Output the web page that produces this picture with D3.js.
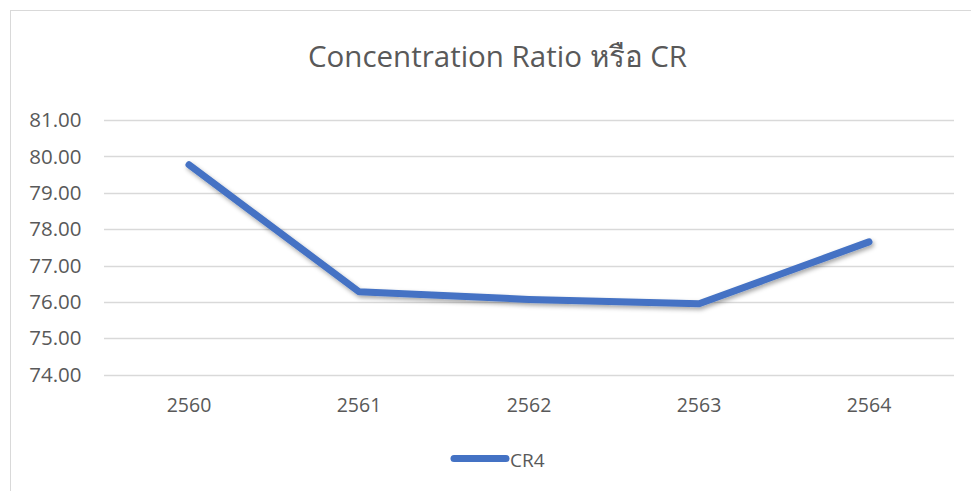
<!DOCTYPE html>
<html>
<head>
<meta charset="utf-8">
<script src="https://cdn.jsdelivr.net/npm/d3@7"></script>
<style>
  body { margin: 0; background: #fff; }
  text { font-family: "Open Sans", "Noto Sans", sans-serif; }
</style>
</head>
<body>
<svg id="chart"></svg>
<script>
// chart data
const years = ["2560", "2561", "2562", "2563", "2564"];
const cr4 = [79.77, 76.28, 76.07, 75.95, 77.65];
const yTicks = [74, 75, 76, 77, 78, 79, 80, 81];

const width = 971, height = 491;
const margin = { top: 120, right: 17, bottom: 116.3, left: 104 };

const svg = d3.select("#chart")
    .attr("width", width)
    .attr("height", height);

// outer frame
svg.append("rect")
    .attr("x", 10.5).attr("y", 10.5)
    .attr("width", width + 20).attr("height", height + 20)
    .attr("fill", "none")
    .attr("stroke", "#d9d9d9")
    .attr("stroke-width", 1);

const x = d3.scaleBand()
    .domain(years)
    .range([margin.left, width - margin.right]);

const y = d3.scaleLinear()
    .domain([74, 81])
    .range([height - margin.bottom, margin.top]);

// gridlines
svg.append("g")
    .selectAll("line")
    .data(yTicks)
    .enter().append("line")
    .attr("x1", margin.left)
    .attr("x2", width - margin.right)
    .attr("y1", d => Math.round(y(d)) + 0.5)
    .attr("y2", d => Math.round(y(d)) + 0.5)
    .attr("stroke", "#d9d9d9")
    .attr("stroke-width", 1.5);

// y labels
svg.append("g")
    .selectAll("text")
    .data(yTicks)
    .enter().append("text")
    .attr("x", 81.5)
    .attr("y", d => y(d))
    .attr("dy", "0.35em")
    .attr("text-anchor", "end")
    .attr("fill", "#595959")
    .attr("font-size", 20.5)
    .text(d => d.toFixed(2));

// x labels
svg.append("g")
    .selectAll("text")
    .data(years)
    .enter().append("text")
    .attr("x", d => x(d) + x.bandwidth() / 2)
    .attr("y", 411.5)
    .attr("text-anchor", "middle")
    .attr("fill", "#595959")
    .attr("font-size", 19.5)
    .text(d => d);

// title
svg.append("text")
    .attr("x", 497.5)
    .attr("y", 66.5)
    .attr("text-anchor", "middle")
    .attr("fill", "#595959")
    .attr("font-size", 29.5)
    .text("Concentration Ratio หรือ CR");

// shadow
const defs = svg.append("defs");
const f = defs.append("filter").attr("id", "shadow")
    .attr("x", "-10%").attr("y", "-10%").attr("width", "120%").attr("height", "130%");
f.append("feDropShadow")
    .attr("dx", 1.5).attr("dy", 2.5)
    .attr("stdDeviation", 2)
    .attr("flood-color", "#000")
    .attr("flood-opacity", 0.35);

const line = d3.line()
    .x((d, i) => x(years[i]) + x.bandwidth() / 2)
    .y(d => y(d));

svg.append("path")
    .datum(cr4)
    .attr("d", line)
    .attr("fill", "none")
    .attr("stroke", "#4472c4")
    .attr("stroke-width", 7)
    .attr("stroke-linecap", "round")
    .attr("stroke-linejoin", "round")
    .attr("filter", "url(#shadow)");

// legend
const lg = svg.append("g");
lg.append("line")
    .attr("x1", 454).attr("x2", 506)
    .attr("y1", 458.5).attr("y2", 458.5)
    .attr("stroke", "#4472c4")
    .attr("stroke-width", 7)
    .attr("stroke-linecap", "round");
lg.append("text")
    .attr("x", 510)
    .attr("y", 466.5)
    .attr("fill", "#595959")
    .attr("font-size", 19)
    .text("CR4");
</script>
</body>
</html>
